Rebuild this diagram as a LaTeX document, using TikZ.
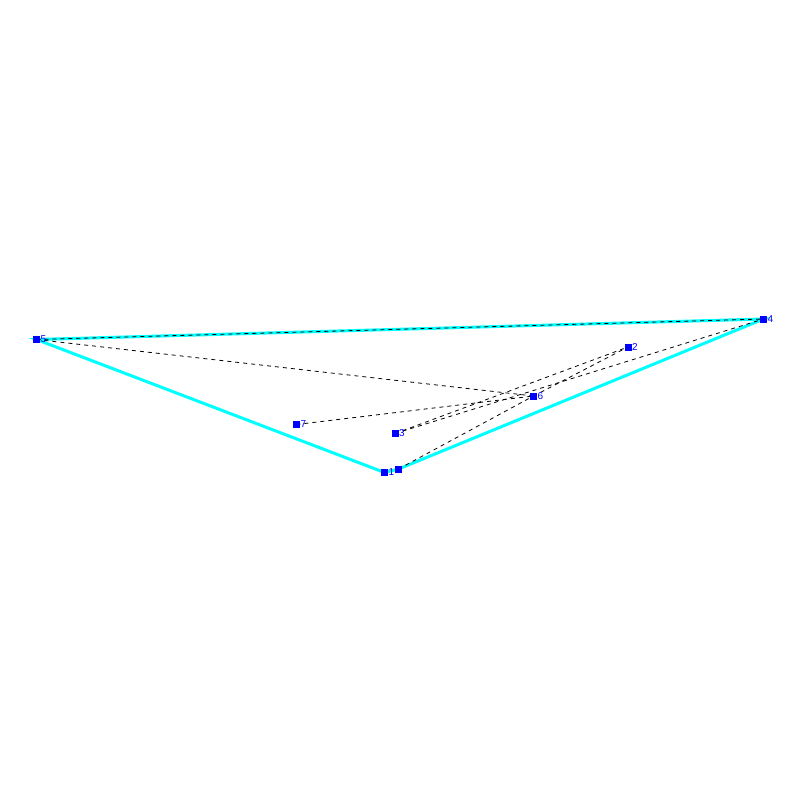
\documentclass[tikz,border=0pt]{standalone}
\usepackage{fontspec}
\setmainfont{Liberation Sans}
\begin{document}
\begin{tikzpicture}[x=1pt,y=-1pt,
  vtx/.style={fill={rgb,255:red,0;green,0;blue,255},draw=none,minimum size=7pt,inner sep=0pt,outer sep=0pt,rectangle},
  lbl/.style={text={rgb,255:red,0;green,0;blue,255},font=\fontsize{10}{10}\selectfont,inner sep=0pt,anchor=west},
  hull/.style={draw={rgb,255:red,0;green,255;blue,255},line width=3pt},
  edge/.style={draw=black,line width=0.8pt,dash pattern=on 4pt off 4pt}]
\useasboundingbox (0,0) rectangle (800,800);
\coordinate (p1) at (384.5,472.5);
\coordinate (p2) at (628,347);
\coordinate (p3) at (395,433.5);
\coordinate (p4) at (763.5,319);
\coordinate (p5) at (36.5,339.5);
\coordinate (p6) at (533.5,396);
\coordinate (p7) at (296.5,424.5);
\coordinate (p8) at (398.5,469);
% hull
\draw[hull] (p5) -- (p1) -- (p8) -- (p4) -- cycle;
% dashed edges
\draw[edge] (p5) -- (p4);
\draw[edge] (p5) -- (p6);
\draw[edge] (p7) -- (p6);
\draw[edge] (p3) -- (p2);
\draw[edge] (p3) -- (p4);
\draw[edge] (p8) -- (p6);
\draw[edge] (p6) -- (p2);
% vertices
\node[vtx] (n1) at (p1) {};
\node[vtx] (n2) at (p2) {};
\node[vtx] (n3) at (p3) {};
\node[vtx] (n4) at (p4) {};
\node[vtx] (n5) at (p5) {};
\node[vtx] (n6) at (p6) {};
\node[vtx] (n7) at (p7) {};
\node[vtx] (n8) at (p8) {};
% labels
\node[lbl] (l1) at ([xshift=4pt]p1) {1};
\node[lbl] (l2) at ([xshift=4pt]p2) {2};
\node[lbl] (l3) at ([xshift=4pt]p3) {3};
\node[lbl] (l4) at ([xshift=4pt]p4) {4};
\node[lbl] (l5) at ([xshift=4pt]p5) {5};
\node[lbl] (l6) at ([xshift=4pt]p6) {6};
\node[lbl] (l7) at ([xshift=4pt]p7) {7};
\end{tikzpicture}
\end{document}
